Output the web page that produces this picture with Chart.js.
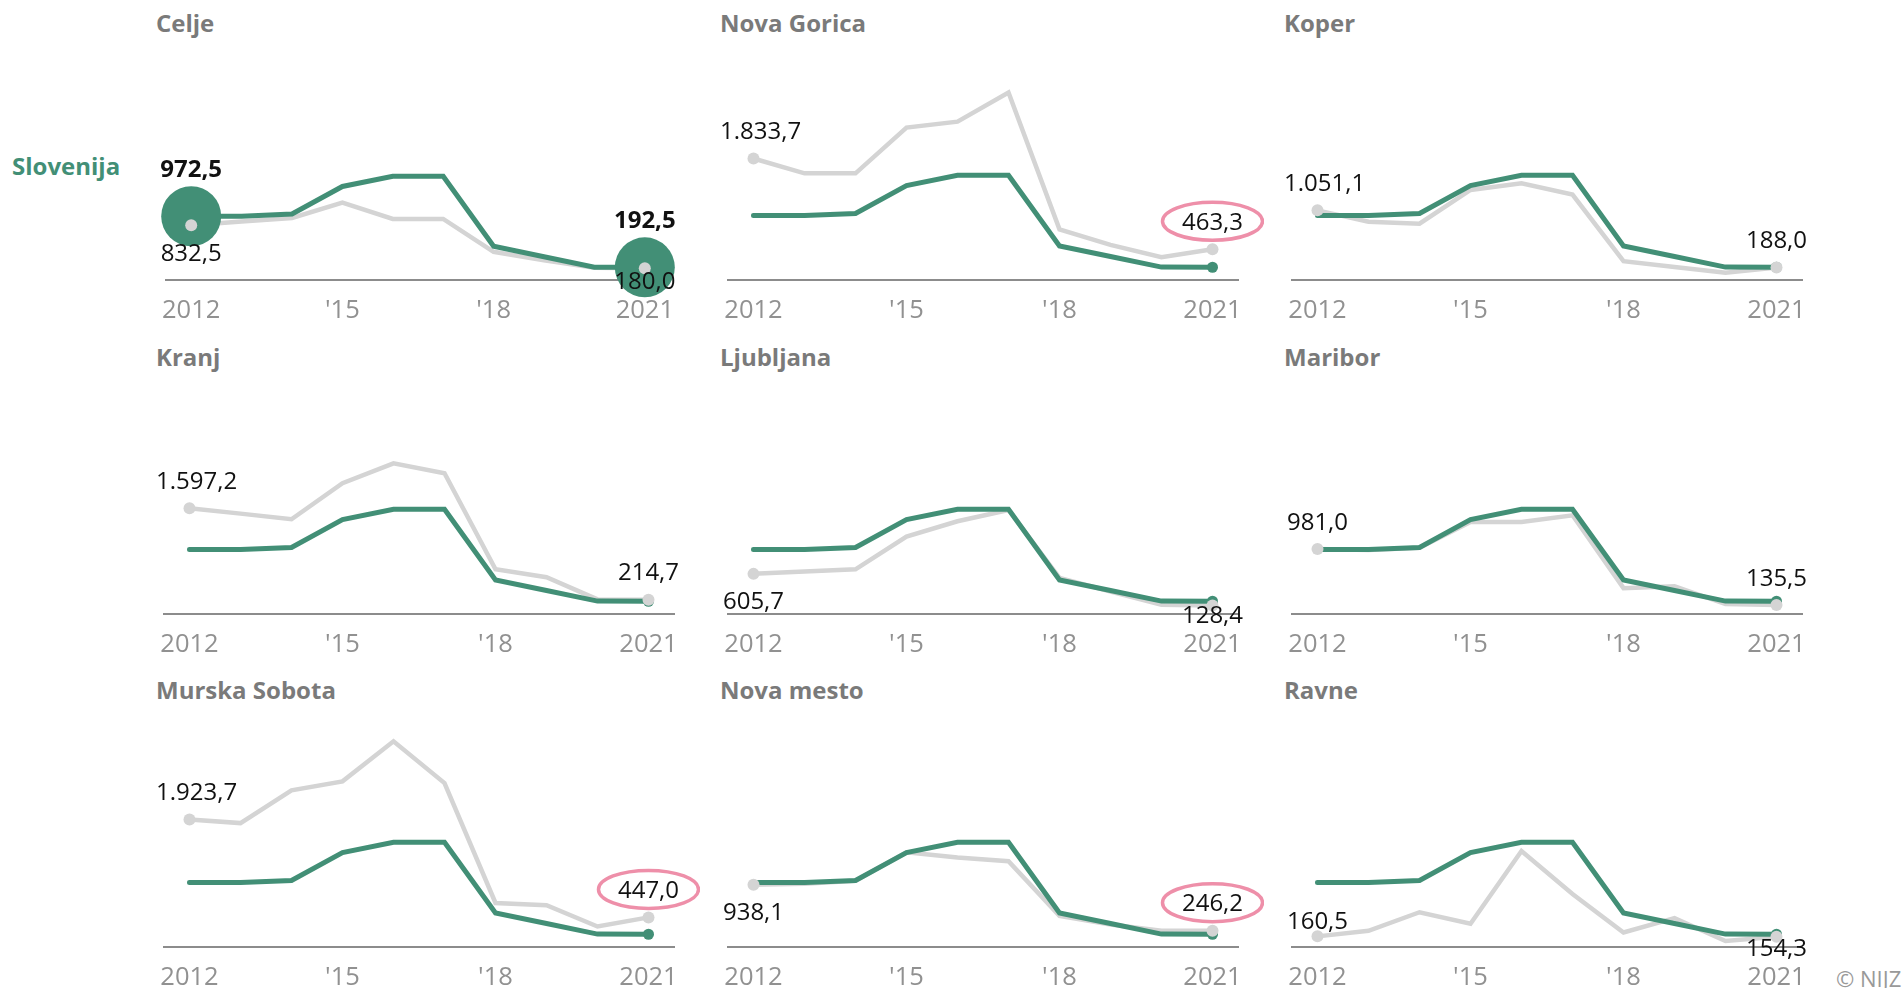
<!DOCTYPE html>
<html>
<head>
<meta charset="utf-8">
<title>Regije</title>
<script src="https://cdn.jsdelivr.net/npm/chart.js@4.4.1/dist/chart.umd.min.js"></script>
<style>
html, body { margin: 0; padding: 0; background: #fff; }
body { width: 1903px; height: 988px; position: relative; overflow: hidden; font-family: 'Open Sans', sans-serif; }
.title { position: absolute; font-size: 24px; line-height: 24px; font-weight: 700; color: #7a7a7a; white-space: nowrap; }
canvas { position: absolute; }
#slo { position: absolute; left: 12px; top: 154px; font-size: 24px; line-height: 24px; font-weight: 700; color: #428f76; }
#src { position: absolute; left: 1836px; top: 967px; font-size: 22px; line-height: 22px; color: #999; white-space: nowrap; }
</style>
</head>
<body>
<div id="slo">Slovenija</div>
<div id="src">© NIJZ</div>
<script>
'use strict';

var years = ['2012', '2013', '2014', '2015', '2016', '2017', '2018', '2019', '2020', '2021'];
var tickLabels = ['2012', '', '', "'15", '', '', "'18", '', '', '2021'];
var regions = ['Celje', 'Nova Gorica', 'Koper', 'Kranj', 'Ljubljana', 'Maribor', 'Murska Sobota', 'Nova mesto', 'Ravne'];

var slovenija    = [972.5, 972, 1005, 1425, 1580, 1580, 515, 355, 195, 192.5];
var celje        = [832.5, 890, 945, 1180, 930, 930, 430, 300, 185, 180.0];
var novaGorica   = [1833.7, 1610, 1610, 2300, 2390, 2830, 765, 530, 343, 463.3];
var koper        = [1051.1, 880, 850, 1360, 1460, 1290, 285, 195, 110, 188.0];
var kranj        = [1597.2, 1515, 1430, 1975, 2275, 2125, 675, 555, 220, 214.7];
var ljubljana    = [605.7, 640, 675, 1170, 1400, 1570, 545, 340, 140, 128.4];
var maribor      = [981.0, 965, 1000, 1390, 1390, 1490, 390, 420, 150, 135.5];
var murskaSobota = [1923.7, 1870, 2365, 2500, 3105, 2475, 665, 630, 310, 447.0];
var novoMesto    = [938.1, 955, 1000, 1430, 1350, 1295, 470, 340, 245, 246.2];
var ravne        = [160.5, 245, 525, 350, 1450, 800, 220, 435, 90, 154.3];

var regionValues = [celje, novaGorica, koper, kranj, ljubljana, maribor, murskaSobota, novoMesto, ravne];

// where the first / last value label sits relative to its point
var sideStart = ['below', 'above', 'above', 'above', 'below', 'above', 'above', 'below', 'tight'];
var sideEnd   = ['below', 'above', 'above', 'above', 'below', 'above', 'above', 'above', 'below'];
var circled = ['Nova Gorica', 'Murska Sobota', 'Nova mesto'];
var focusRegion = 'Celje';

var GREEN = '#428f76';
var GREY = '#d4d4d4';
var PINK = '#ee8fa9';
var colX = [164, 728, 1292];
var rowY = [0, 334, 667];

function fmt(v) {
	var parts = v.toFixed(1).split('.');
	parts[0] = parts[0].replace(/\B(?=(\d{3})+(?!\d))/g, '.');
	return parts[0] + ',' + parts[1];
}

function drawLabel(ctx, text, pt, side, area, bold) {
	ctx.font = (bold ? '700 ' : '') + '24px "Open Sans"';
	var w = ctx.measureText(text).width;
	var x = Math.max(pt.x - w / 2, area.left - 8);
	var cy;
	if (bold) cy = pt.y - 48;
	else if (side === 'above') cy = pt.y - 28;
	else if (side === 'tight') cy = pt.y - 16;
	else cy = Math.min(pt.y + 27, area.bottom);
	ctx.fillStyle = '#111';
	ctx.textAlign = 'left';
	ctx.textBaseline = 'alphabetic';
	ctx.fillText(text, x, cy + 8.6);
	return { cx: x + w / 2, cy: cy };
}

regions.forEach(function (name, i) {
	var col = i % 3, row = Math.floor(i / 3);
	var vals = regionValues[i];
	var last = vals.length - 1;
	var focus = name === focusRegion;

	var title = document.createElement('div');
	title.className = 'title';
	title.style.left = (colX[col] - 8) + 'px';
	title.style.top = (rowY[row] + 11) + 'px';
	title.textContent = name;
	document.body.appendChild(title);

	var canvas = document.createElement('canvas');
	canvas.width = 564;
	canvas.height = 290;
	canvas.style.left = (colX[col] - 28) + 'px';
	canvas.style.top = (rowY[row] + 40) + 'px';
	document.body.appendChild(canvas);

	var labelPlugin = {
		id: 'endLabels',
		afterDatasetsDraw: function (chart) {
			var ctx = chart.ctx;
			var area = chart.chartArea;
			var pts = chart.getDatasetMeta(0).data;
			var green = chart.getDatasetMeta(1).data;
			ctx.save();
			drawLabel(ctx, fmt(vals[0]), pts[0], sideStart[i], area, false);
			var endLab = drawLabel(ctx, fmt(vals[last]), pts[last], sideEnd[i], area, false);
			if (circled.indexOf(name) !== -1) {
				ctx.beginPath();
				ctx.ellipse(endLab.cx, endLab.cy, 50, 19, 0, 0, Math.PI * 2);
				ctx.strokeStyle = PINK;
				ctx.lineWidth = 3.5;
				ctx.stroke();
			}
			if (focus) {
				drawLabel(ctx, fmt(slovenija[0]), green[0], 'above', area, true);
				drawLabel(ctx, fmt(slovenija[last]), green[last], 'above', area, true);
			}
			ctx.restore();
		}
	};

	new Chart(canvas.getContext('2d'), {
		type: 'line',
		data: {
			labels: years,
			datasets: [{
				label: name + ' (točke)',
				data: vals,
				showLine: false,
				pointRadius: function (c) { return (c.dataIndex === 0 || c.dataIndex === last) ? 6 : 0; },
				pointBackgroundColor: GREY,
				pointBorderWidth: 0,
				clip: false,
				order: 0
			}, {
				label: 'Slovenija',
				data: slovenija,
				borderColor: GREEN,
				borderWidth: 5,
				borderCapStyle: 'round',
				tension: 0,
				pointRadius: function (c) {
					if (focus) return (c.dataIndex === 0 || c.dataIndex === last) ? 30 : 0;
					return c.dataIndex === last ? 5.5 : 0;
				},
				pointBackgroundColor: GREEN,
				pointBorderWidth: 0,
				clip: false,
				order: 1
			}, {
				label: name,
				data: vals,
				borderColor: GREY,
				borderWidth: 4.5,
				borderCapStyle: 'round',
				tension: 0,
				pointRadius: 0,
				clip: false,
				order: 2
			}]
		},
		options: {
			responsive: false,
			animation: false,
			events: [],
			layout: { padding: { left: 28, right: 26, top: 28, bottom: 0 } },
			plugins: { legend: { display: false }, tooltip: { enabled: false } },
			scales: {
				x: {
					offset: true,
					grid: { display: false, drawTicks: false },
					border: { display: true, color: '#8c8c8c', width: 2 },
					ticks: {
						autoSkip: false,
						maxRotation: 0,
						padding: 15,
						color: '#919191',
						font: { family: 'Open Sans', size: 25.5 },
						callback: function (v, idx) { return tickLabels[idx]; }
					},
					afterFit: function (s) { s.height = 50; }
				},
				y: { display: false, min: 0, max: 3200 }
			}
		},
		plugins: [labelPlugin]
	});
});
</script>
</body>
</html>
